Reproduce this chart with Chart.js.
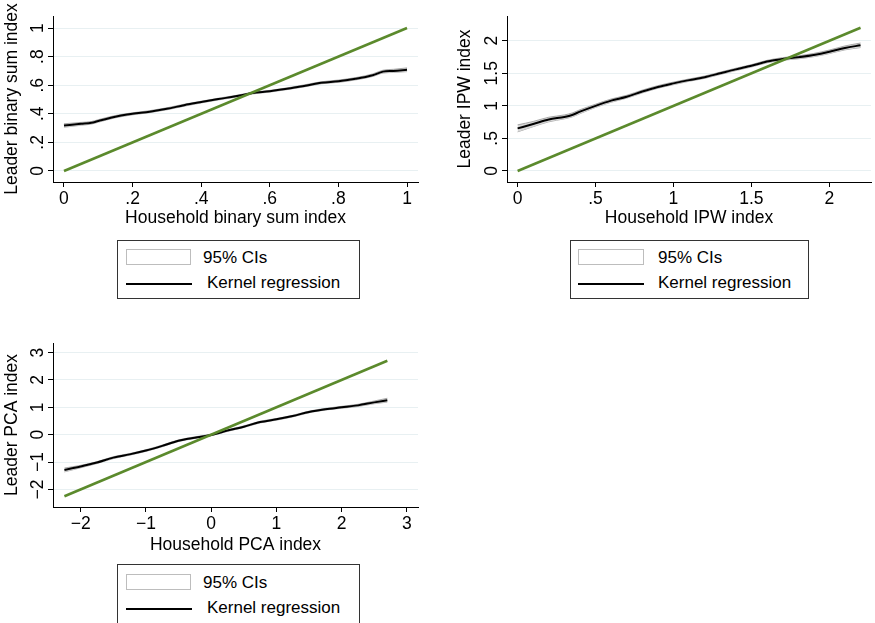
<!DOCTYPE html>
<html><head><meta charset="utf-8">
<script src="https://cdn.jsdelivr.net/npm/chart.js@4.4.0/dist/chart.umd.min.js"></script>
<style>
body{margin:0;background:#fff;width:875px;height:623px;overflow:hidden;position:relative;font-family:"Liberation Sans",Arial,Helvetica,sans-serif;}
canvas{position:absolute;}
.legend{position:absolute;border:1px solid #333;background:#fff;box-sizing:border-box;font-size:17px;color:#000;}
.legend .ci{position:absolute;border:1px solid #bdbdbd;background:#fff;box-sizing:border-box;}
.legend .kl{position:absolute;height:2px;background:#000;}
.legend .tx{position:absolute;line-height:20px;white-space:nowrap;}
</style></head><body>
<canvas id="c1" width="430" height="235" style="left:0px;top:0px"></canvas>
<canvas id="c2" width="422" height="235" style="left:453px;top:0px"></canvas>
<canvas id="c3" width="430" height="235" style="left:0px;top:327px"></canvas>

<div class="legend" style="left:117px;top:240px;width:243px;height:59px">
  <div class="ci" style="left:8px;top:8px;width:65px;height:16px"></div>
  <div class="tx" style="left:85px;top:7px">95% CIs</div>
  <div class="kl" style="left:8px;top:42px;width:66px"></div>
  <div class="tx" style="left:89px;top:32px">Kernel regression</div>
</div>
<div class="legend" style="left:570px;top:240px;width:239px;height:59px">
  <div class="ci" style="left:7px;top:8px;width:66px;height:16px"></div>
  <div class="tx" style="left:87px;top:7px">95% CIs</div>
  <div class="kl" style="left:7px;top:42px;width:66px"></div>
  <div class="tx" style="left:87px;top:32px">Kernel regression</div>
</div>
<div class="legend" style="left:117px;top:564px;width:243px;height:70px">
  <div class="ci" style="left:8px;top:9px;width:65px;height:16px"></div>
  <div class="tx" style="left:85px;top:8px">95% CIs</div>
  <div class="kl" style="left:8px;top:43px;width:66px"></div>
  <div class="tx" style="left:89px;top:33px">Kernel regression</div>
</div>

<script>
// ---------- Panel 1: binary sum index ----------
const p1XTicks = [0, 0.2, 0.4, 0.6, 0.8, 1];
const p1XLabels = ["0", ".2", ".4", ".6", ".8", "1"];
const p1YTicks = [0, 0.2, 0.4, 0.6, 0.8, 1];
const p1YLabels = ["0", ".2", ".4", ".6", ".8", "1"];
const p1KernelX = [0, 0.05, 0.08, 0.1, 0.15, 0.2, 0.25, 0.3, 0.35, 0.4, 0.45, 0.5, 0.55, 0.6, 0.65, 0.7, 0.75, 0.8, 0.85, 0.9, 0.93, 0.96, 1.0];
const p1KernelY = [0.318, 0.330, 0.337, 0.350, 0.380, 0.400, 0.415, 0.435, 0.460, 0.482, 0.503, 0.522, 0.545, 0.558, 0.575, 0.595, 0.617, 0.628, 0.645, 0.670, 0.695, 0.700, 0.708];
const p1CILow  = [0.306, 0.320, 0.328, 0.341, 0.372, 0.393, 0.408, 0.428, 0.453, 0.476, 0.497, 0.516, 0.539, 0.552, 0.569, 0.588, 0.610, 0.620, 0.637, 0.661, 0.685, 0.689, 0.695];
const p1CIHigh = [0.330, 0.340, 0.346, 0.359, 0.388, 0.407, 0.422, 0.442, 0.467, 0.488, 0.509, 0.528, 0.551, 0.564, 0.581, 0.602, 0.624, 0.636, 0.653, 0.679, 0.705, 0.711, 0.721];
const p1Diag = [0, 1];

// ---------- Panel 2: IPW index ----------
const p2XTicks = [0, 0.5, 1, 1.5, 2];
const p2XLabels = ["0", ".5", "1", "1.5", "2"];
const p2YTicks = [0, 0.5, 1, 1.5, 2];
const p2YLabels = ["0", ".5", "1", "1.5", "2"];
const p2KernelX = [0, 0.1, 0.2, 0.3, 0.35, 0.4, 0.5, 0.6, 0.7, 0.8, 0.9, 1.0, 1.1, 1.2, 1.3, 1.4, 1.5, 1.6, 1.7, 1.8, 1.9, 2.0, 2.1, 2.2];
const p2KernelY = [0.654, 0.72, 0.79, 0.83, 0.86, 0.91, 1.0, 1.08, 1.14, 1.22, 1.29, 1.345, 1.395, 1.44, 1.50, 1.56, 1.615, 1.68, 1.72, 1.745, 1.78, 1.83, 1.89, 1.93];
const p2CILow  = [0.60, 0.68, 0.755, 0.80, 0.83, 0.88, 0.975, 1.055, 1.118, 1.198, 1.27, 1.325, 1.377, 1.422, 1.482, 1.542, 1.597, 1.661, 1.700, 1.722, 1.755, 1.803, 1.860, 1.895];
const p2CIHigh = [0.708, 0.76, 0.825, 0.86, 0.89, 0.94, 1.025, 1.105, 1.162, 1.242, 1.31, 1.365, 1.413, 1.458, 1.518, 1.578, 1.633, 1.699, 1.740, 1.768, 1.805, 1.857, 1.920, 1.965];
const p2Diag = [0, 2.2];

// ---------- Panel 3: PCA index ----------
const p3XTicks = [-2, -1, 0, 1, 2, 3];
const p3XLabels = ["\u22122", "\u22121", "0", "1", "2", "3"];
const p3YTicks = [-2, -1, 0, 1, 2, 3];
const p3YLabels = ["\u22122", "\u22121", "0", "1", "2", "3"];
const p3KernelX = [-2.25, -2.0, -1.75, -1.5, -1.25, -1.0, -0.75, -0.5, -0.25, 0, 0.25, 0.5, 0.75, 1.0, 1.25, 1.5, 1.75, 2.0, 2.25, 2.5, 2.7];
const p3KernelY = [-1.29, -1.165, -1.02, -0.84, -0.72, -0.58, -0.41, -0.22, -0.11, -0.01, 0.15, 0.29, 0.46, 0.56, 0.68, 0.83, 0.93, 1.0, 1.07, 1.18, 1.26];
const p3CILow  = [-1.36, -1.21, -1.055, -0.875, -0.75, -0.61, -0.44, -0.25, -0.14, -0.04, 0.12, 0.26, 0.43, 0.53, 0.65, 0.80, 0.90, 0.965, 1.03, 1.13, 1.19];
const p3CIHigh = [-1.22, -1.12, -0.985, -0.805, -0.69, -0.55, -0.38, -0.19, -0.08, 0.02, 0.18, 0.32, 0.49, 0.59, 0.71, 0.86, 0.96, 1.035, 1.11, 1.23, 1.33];
const p3Diag = [-2.25, 2.7];

const FONT = '"Liberation Sans", Arial, Helvetica, sans-serif';
const FSIZE = 17.5;
Chart.defaults.font.family = FONT;
Chart.defaults.font.size = FSIZE;
Chart.defaults.color = '#000';

const yLabelPlugin = {
  id: 'yLabels',
  afterDraw(chart, args, opts) {
    const s = chart.scales.y, ctx = chart.ctx;
    ctx.save();
    ctx.font = FSIZE + 'px ' + FONT;
    ctx.fillStyle = '#000';
    ctx.textAlign = 'center';
    ctx.textBaseline = 'middle';
    opts.values.forEach((v, i) => {
      const py = s.getPixelForValue(v);
      ctx.save();
      ctx.translate(s.right - opts.offset, py);
      ctx.rotate(-Math.PI / 2);
      ctx.fillText(opts.labels[i], 0, 0);
      ctx.restore();
    });
    ctx.restore();
  }
};
Chart.register(yLabelPlugin);

function pts(xs, ys) { return xs.map((x, i) => ({x: x, y: ys[i]})); }

function makeChart(id, c) {
  new Chart(document.getElementById(id), {
    type: 'line',
    data: { datasets: [
      { data: pts(c.diag, c.diag), borderColor: '#5b8a2c', borderWidth: 2.6, pointRadius: 0, fill: false },
      { data: pts(c.kx, c.ky), borderColor: '#000', borderWidth: 2, pointRadius: 0, fill: false, cubicInterpolationMode: 'monotone' },
      { data: pts(c.kx, c.hi), borderColor: 'rgba(150,150,150,0.8)', borderWidth: 1, backgroundColor: '#d6d6d6', fill: 3, pointRadius: 0, cubicInterpolationMode: 'monotone' },
      { data: pts(c.kx, c.lo), borderColor: 'rgba(150,150,150,0.8)', borderWidth: 1, pointRadius: 0, fill: false, cubicInterpolationMode: 'monotone' }
    ]},
    options: {
      responsive: false, animation: false, devicePixelRatio: 1,
      layout: { padding: { left: 0, top: c.padTop, right: c.padRight, bottom: 0 } },
      plugins: { legend: { display: false }, tooltip: { enabled: false },
        yLabels: { values: c.yTicks, labels: c.yLabels, offset: 15 } },
      scales: {
        x: {
          type: 'linear', min: c.xMin, max: c.xMax,
          afterBuildTicks: s => { s.ticks = c.xTicks.map(v => ({ value: v })); },
          afterFit: s => { s.height = c.xHeight; },
          ticks: { autoSkip: false, maxRotation: 0, minRotation: 0, padding: 2,
                   callback: (v, i) => c.xLabels[i] },
          grid: { drawOnChartArea: false, drawTicks: true, tickLength: 5, tickColor: '#000', tickWidth: 1 },
          border: { display: true, color: '#000', width: 1 },
          title: { display: true, text: c.xTitle, padding: { top: 0, bottom: 6 } }
        },
        y: {
          type: 'linear', min: c.yMin, max: c.yMax,
          afterBuildTicks: s => { s.ticks = c.yTicks.map(v => ({ value: v })); },
          afterFit: s => { s.width = c.yWidth; },
          ticks: { display: false },
          grid: { color: '#e8f0f2', lineWidth: 1, drawTicks: true, tickLength: 5, tickColor: '#000', tickWidth: 1 },
          border: { display: true, color: '#000', width: 1 },
          title: { display: true, text: c.yTitle, padding: { top: 2, bottom: 0 } }
        }
      }
    }
  });
}

makeChart('c1', { diag: p1Diag, kx: p1KernelX, ky: p1KernelY, lo: p1CILow, hi: p1CIHigh,
  xTicks: p1XTicks, xLabels: p1XLabels, yTicks: p1YTicks, yLabels: p1YLabels,
  xMin: -0.032, xMax: 1.032, yMin: -0.077, yMax: 1.084,
  padTop: 16, padRight: 12, xHeight: 53, yWidth: 53,
  xTitle: 'Household binary sum index', yTitle: 'Leader binary sum index' });

makeChart('c2', { diag: p2Diag, kx: p2KernelX, ky: p2KernelY, lo: p2CILow, hi: p2CIHigh,
  xTicks: p2XTicks, xLabels: p2XLabels, yTicks: p2YTicks, yLabels: p2YLabels,
  xMin: -0.068, xMax: 2.267, yMin: -0.17, yMax: 2.38,
  padTop: 16, padRight: 4, xHeight: 53, yWidth: 54,
  xTitle: 'Household IPW index', yTitle: 'Leader IPW index' });

makeChart('c3', { diag: p3Diag, kx: p3KernelX, ky: p3KernelY, lo: p3CILow, hi: p3CIHigh,
  xTicks: p3XTicks, xLabels: p3XLabels, yTicks: p3YTicks, yLabels: p3YLabels,
  xMin: -2.425, xMax: 3.17, yMin: -2.643, yMax: 3.349,
  padTop: 16, padRight: 12, xHeight: 55, yWidth: 53,
  xTitle: 'Household PCA index', yTitle: 'Leader PCA index' });
</script>
</body></html>
